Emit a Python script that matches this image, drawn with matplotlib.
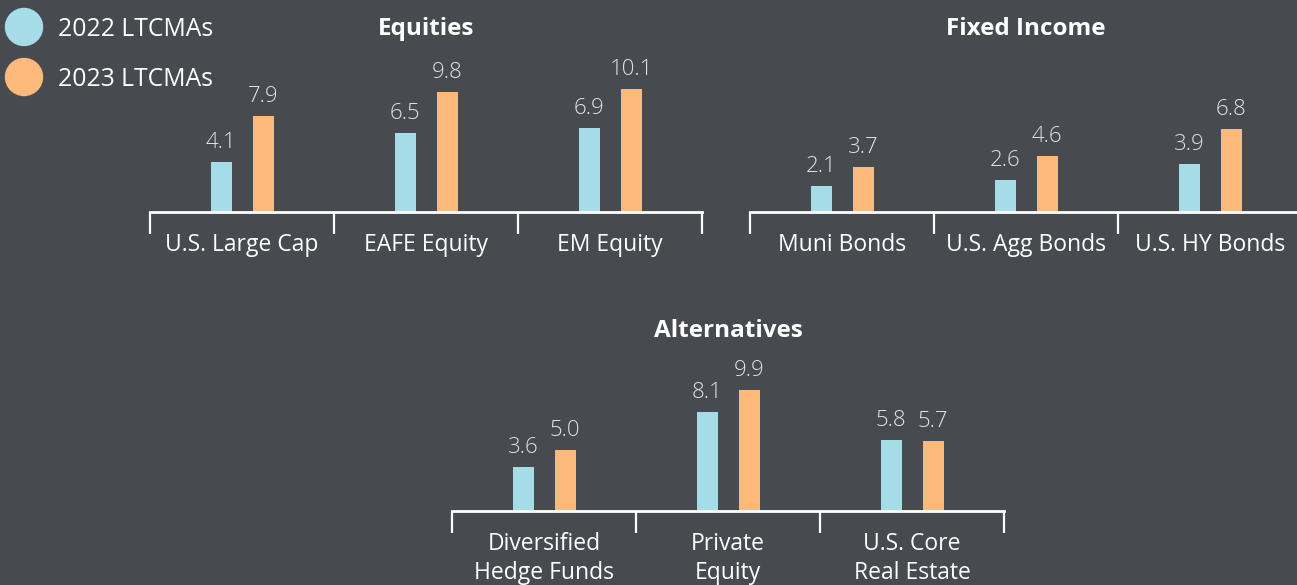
import matplotlib
matplotlib.use("Agg")
import matplotlib.pyplot as plt
from matplotlib.patches import Circle

plt.rcParams['font.family'] = ['Open Sans', 'DejaVu Sans']

BG = '#474b50'
C22 = '#a6dce8'
C23 = '#fdb97a'

eq_cats = ['U.S. Large Cap', 'EAFE Equity', 'EM Equity']
eq_2022 = [4.1, 6.5, 6.9]
eq_2023 = [7.9, 9.8, 10.1]

fi_cats = ['Muni Bonds', 'U.S. Agg Bonds', 'U.S. HY Bonds']
fi_2022 = [2.1, 2.6, 3.9]
fi_2023 = [3.7, 4.6, 6.8]

alt_cats = ['Diversified\nHedge Funds', 'Private\nEquity', 'U.S. Core\nReal Estate']
alt_2022 = [3.6, 8.1, 5.8]
alt_2023 = [5.0, 9.9, 5.7]

legend_labels = ['2022 LTCMAs', '2023 LTCMAs']

W, H = 1297, 585
fig = plt.figure(figsize=(W / 100, H / 100), dpi=100)
fig.patch.set_facecolor(BG)

PX_PER_UNIT = 12.2
YMAX = 12
GROUP_W = 184.0


def panel(left_px, base_px, title, cats, v22, v23):
    h_px = YMAX * PX_PER_UNIT
    ax = fig.add_axes([left_px / W, (H - base_px) / H, 3 * GROUP_W / W, h_px / H])
    ax.set_facecolor('none')
    ax.set_xlim(0, 3)
    ax.set_ylim(0, YMAX)
    off = 21 / GROUP_W
    bw = 21 / GROUP_W
    xs = [i + 0.5 for i in range(3)]
    b1 = ax.bar([x - off for x in xs], v22, width=bw, color=C22, zorder=2)
    b2 = ax.bar([x + off for x in xs], v23, width=bw, color=C23, zorder=2)
    for bars, vals in ((b1, v22), (b2, v23)):
        for r, v in zip(bars, vals):
            ax.annotate(f'{v:.1f}', (r.get_x() + r.get_width() / 2, v),
                        xytext=(0, 6.5), textcoords='offset points',
                        ha='center', va='bottom', fontsize=16,
                        color='#e2e2e2', fontweight='light')
    for s in ('top', 'right', 'left'):
        ax.spines[s].set_visible(False)
    ax.spines['bottom'].set_color('white')
    ax.spines['bottom'].set_linewidth(2)
    ax.set_yticks([])
    ax.set_xticks([0, 1, 2, 3])
    ax.set_xticklabels([])
    ax.tick_params(axis='x', which='major', length=16, width=1.6,
                   color='white', direction='out')
    for x, c in zip(xs, cats):
        ax.annotate(c, (x, 0), xycoords=('data', 'axes fraction'),
                    xytext=(0, -15), textcoords='offset points',
                    ha='center', va='top', fontsize=16.5, color='white',
                    linespacing=1.26)
    fig.text((left_px + 1.5 * GROUP_W) / W, title[1], title[0],
             ha='center', va='center', fontsize=17.5, fontweight='bold',
             color='white')
    return ax


panel(150, 212, ('Equities', 1 - 29 / H), eq_cats, eq_2022, eq_2023)
panel(750, 212, ('Fixed Income', 1 - 29 / H), fi_cats, fi_2022, fi_2023)
panel(452, 511, ('Alternatives', 1 - 331 / H), alt_cats, alt_2022, alt_2023)

# legend
leg_ax = fig.add_axes([0, 0, 1, 1], zorder=-1)
leg_ax.set_xlim(0, W)
leg_ax.set_ylim(H, 0)
leg_ax.axis('off')
for i, (lab, col) in enumerate(zip(legend_labels, [C22, C23])):
    yc = 27 + 50 * i
    leg_ax.add_patch(Circle((24, yc), 18.5, color=col))
    fig.text(58 / W, 1 - (yc + 3) / H, lab, ha='left', va='center',
             fontsize=17.8, color='white')

fig.savefig('out.png', dpi=100, facecolor=BG)
